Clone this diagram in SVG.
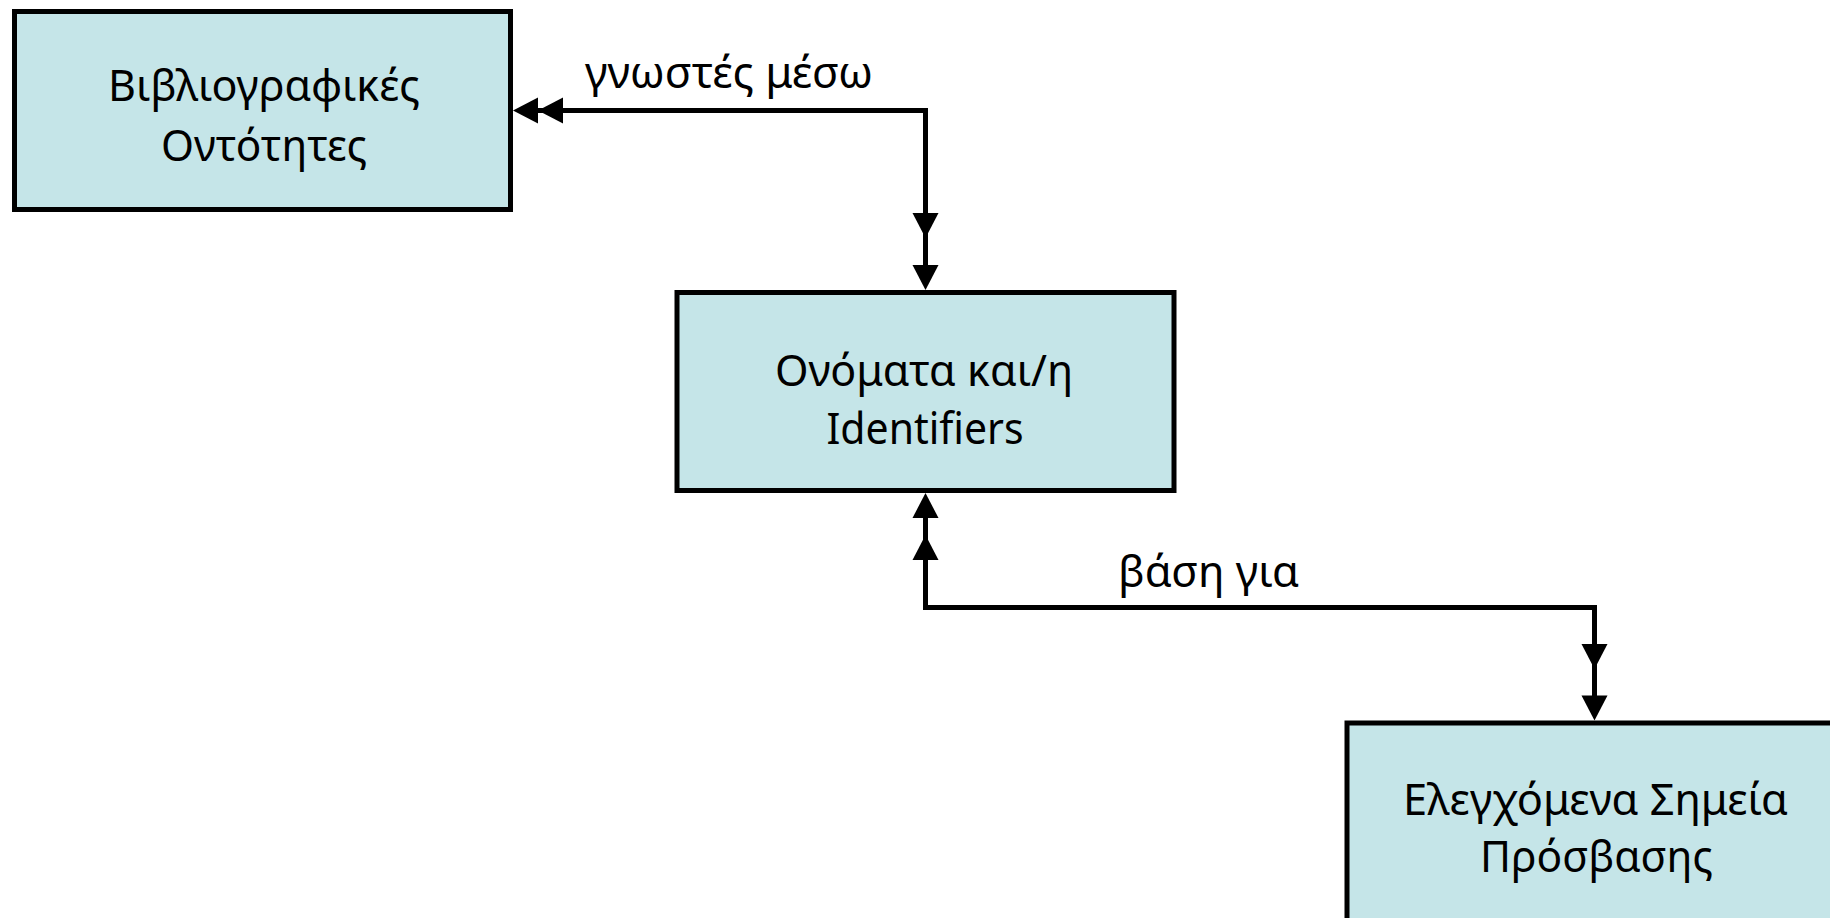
<svg xmlns="http://www.w3.org/2000/svg" xmlns:xlink="http://www.w3.org/1999/xlink" width="1830" height="918" viewBox="0 0 1830 918">
<style>
.box{fill:#c5e5e8;stroke:#000;stroke-width:5}
.t{font-family:"Noto Sans","Open Sans","DejaVu Sans",sans-serif;font-size:44px;fill:#000;text-anchor:middle}
.c{fill:none;stroke:#000;stroke-width:5}
.ah{fill:#000}
</style>
<defs>
<path id="ah" d="M0,0 L-25,-13 L-25,13 Z"/>
</defs>
<rect width="1830" height="918" fill="#fff"/>
<g id="connectors">
<path class="c" d="M530,110.5 H925.5 V275"/>
<path class="c" d="M925.5,510 V607.5 H1594.5 V705"/>
<use href="#ah" xlink:href="#ah" class="ah" transform="translate(513,110.5) rotate(180)"/>
<use href="#ah" xlink:href="#ah" class="ah" transform="translate(538,110.5) rotate(180)"/>
<use href="#ah" xlink:href="#ah" class="ah" transform="translate(925.5,238) rotate(90)"/>
<use href="#ah" xlink:href="#ah" class="ah" transform="translate(925.5,290) rotate(90)"/>
<use href="#ah" xlink:href="#ah" class="ah" transform="translate(925.5,493) rotate(-90)"/>
<use href="#ah" xlink:href="#ah" class="ah" transform="translate(925.5,535) rotate(-90)"/>
<use href="#ah" xlink:href="#ah" class="ah" transform="translate(1594.5,669) rotate(90)"/>
<use href="#ah" xlink:href="#ah" class="ah" transform="translate(1594.5,720.5) rotate(90)"/>
<text class="t" x="729" y="88" textLength="288" lengthAdjust="spacingAndGlyphs">γνωστές μέσω</text>
<text class="t" x="1208.5" y="587" textLength="181" lengthAdjust="spacingAndGlyphs">βάση για</text>
</g>
<g id="node-bibliographic">
<rect class="box" x="14.5" y="11.5" width="496" height="198"/>
<text class="t" x="264" y="101" textLength="312" lengthAdjust="spacingAndGlyphs">Βιβλιογραφικές</text>
<text class="t" x="264" y="161" textLength="206" lengthAdjust="spacingAndGlyphs">Οντότητες</text>
</g>
<g id="node-names">
<rect class="box" x="677" y="292.5" width="497" height="198"/>
<text class="t" x="924" y="386" textLength="298" lengthAdjust="spacingAndGlyphs">Ονόματα και/η</text>
<text class="t" x="925" y="444" textLength="197" lengthAdjust="spacingAndGlyphs">Identifiers</text>
</g>
<g id="node-access-points">
<rect class="box" x="1347" y="723" width="497" height="198"/>
<text class="t" x="1595.5" y="815" textLength="385" lengthAdjust="spacingAndGlyphs">Ελεγχόμενα Σημεία</text>
<text class="t" x="1596.5" y="872" textLength="233" lengthAdjust="spacingAndGlyphs">Πρόσβασης</text>
</g>
</svg>
